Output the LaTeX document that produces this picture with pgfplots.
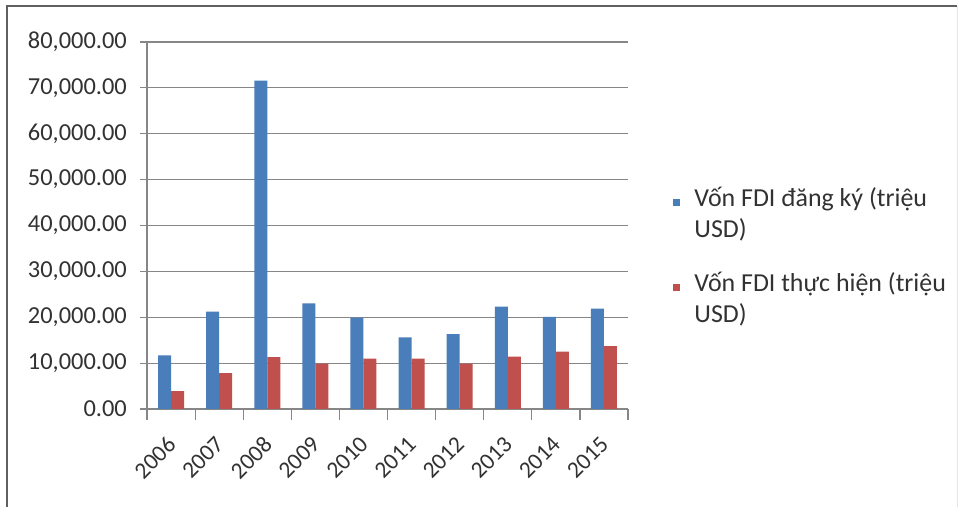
\documentclass[border=0pt]{standalone}
\usepackage{fontspec}
\setmainfont{Carlito}
\usepackage{pgfplots}
\pgfplotsset{compat=1.18}
\definecolor{fdiblue}{RGB}{74,126,187}
\definecolor{fdired}{RGB}{192,80,77}
\definecolor{gridgray}{RGB}{134,134,134}
\definecolor{txtgray}{RGB}{50,50,50}
\begin{document}
\begin{tikzpicture}
\path[use as bounding box] (0,0) rectangle (960bp,507bp);
\fill[white] (0,0) rectangle (960bp,507bp);
\draw[gray!75!black, line width=2bp] (7bp,0) -- (7bp,501bp) -- (957bp,501bp);
\draw[gray!20, line width=1bp] (957bp,0) -- (957bp,501bp);
\begin{axis}[
  at={(147bp,98bp)}, anchor=south west,
  scale only axis, width=481bp, height=367bp,
  ymin=0, ymax=80000, ytick={0,10000,...,80000},
  scaled y ticks=false,
  xmin=-0.5, xmax=9.5,
  xtick={0,...,9},
  xticklabels={2006,2007,2008,2009,2010,2011,2012,2013,2014,2015},
  ybar=0pt, bar width=13bp,
  axis x line*=bottom, axis y line*=left,
  axis line style={gridgray, line width=1.2bp, -},
  ymajorgrids, grid style={gridgray, line width=1.2bp},
  tick align=outside,
  major x tick style={draw=none},
  ytick style={gridgray, line width=1.2bp},
  major tick length=7bp,
  extra x ticks={-0.5,0.5,...,9.5},
  extra x tick labels={},
  extra x tick style={grid=none, major tick length=11bp, major x tick style={draw=gridgray, line width=1.2bp}},
  yticklabel style={font=\fontsize{24.5}{29}\selectfont, text=txtgray, anchor=east, inner sep=0pt, xshift=-13bp,
    /pgf/number format/.cd, fixed, fixed zerofill, precision=2, 1000 sep={,}, assume math mode=true},
  xticklabel style={font=\fontsize{23.5}{28}\selectfont, text=txtgray, inner sep=0pt, xshift=-5bp, yshift=-19bp, rotate=45, anchor=north east},
  legend style={at={(axis description cs:1.094,0.604)}, anchor=north west, draw=none, fill=none,
    inner sep=0pt, row sep=33bp, column sep=14bp,
    font=\fontsize{26}{31}\selectfont, text=txtgray,
    nodes={inner sep=0pt, align=left, anchor=base west}},
  legend cell align=left,
  legend image code/.code={\fill[#1,draw=none] (0bp,32bp) rectangle (7bp,39bp);},
]
\addplot[fill=fdiblue, draw=none] coordinates {(0,11700) (1,21200) (2,71600) (3,23000) (4,19900) (5,15600) (6,16300) (7,22300) (8,20100) (9,21900)};
\addlegendentry{Vốn FDI đăng ký (triệu\\USD)}
\addplot[fill=fdired, draw=none] coordinates {(0,3900) (1,7800) (2,11300) (3,9900) (4,11000) (5,11000) (6,9900) (7,11400) (8,12500) (9,13700)};
\addlegendentry{Vốn FDI thực hiện (triệu\\USD)}
\end{axis}
\end{tikzpicture}
\end{document}
